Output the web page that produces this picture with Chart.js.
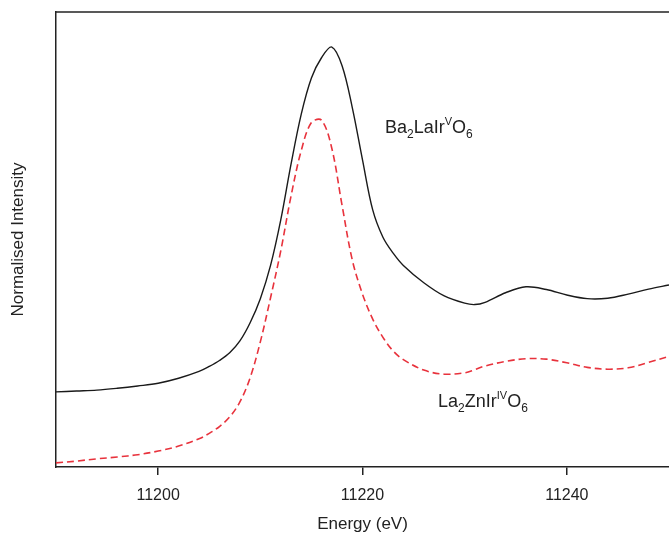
<!DOCTYPE html>
<html>
<head>
<meta charset="utf-8">
<script src="https://cdn.jsdelivr.net/npm/chart.js@4/dist/chart.umd.min.js"></script>
<style>
  html, body { margin: 0; padding: 0; background: #fff; }
  #wrap { width: 669px; height: 536px; position: relative; }
</style>
</head>
<body>
<div id="wrap"><canvas id="xanes"></canvas></div>
<script>
// Ir L3-edge XANES
const energies = [11190, 11192, 11194, 11196, 11198, 11200, 11202, 11204, 11205, 11206,
  11207, 11208, 11209, 11210, 11211, 11212, 11213, 11214, 11215, 11216,
  11217, 11218, 11219, 11220, 11221, 11222, 11223, 11224, 11226, 11228,
  11230, 11231, 11232, 11234, 11236, 11238, 11240, 11242, 11244, 11246, 11248, 11250];

const ba2LaIrO6 = [0.165, 0.167, 0.169, 0.173, 0.178, 0.184, 0.195, 0.210, 0.221, 0.234,
  0.251, 0.277, 0.317, 0.370, 0.443, 0.543, 0.665, 0.775, 0.855, 0.900,
  0.923, 0.882, 0.790, 0.675, 0.565, 0.505, 0.470, 0.443, 0.405, 0.376,
  0.360, 0.357, 0.362, 0.383, 0.396, 0.390, 0.378, 0.370, 0.371, 0.380, 0.391, 0.400];

const la2ZnIrO6 = [0.009, 0.013, 0.018, 0.022, 0.027, 0.035, 0.046, 0.062, 0.074, 0.089,
  0.110, 0.143, 0.196, 0.275, 0.372, 0.475, 0.595, 0.695, 0.757, 0.762,
  0.700, 0.575, 0.455, 0.380, 0.325, 0.285, 0.255, 0.236, 0.213, 0.204,
  0.207, 0.214, 0.222, 0.232, 0.238, 0.237, 0.229, 0.219, 0.215, 0.218, 0.230, 0.243];

const xTicks = [11200, 11220, 11240];

// curve labels: [text, script] pieces, anchored in data units
const curveLabels = [
  { x: 11222.2, y: 0.734, parts: [['Ba'], ['2', 'sub'], ['LaIr'], ['V', 'sup'], ['O'], ['6', 'sub']] },
  { x: 11227.4, y: 0.132, parts: [['La'], ['2', 'sub'], ['ZnIr'], ['IV', 'sup'], ['O'], ['6', 'sub']] }
];

const FONT = '"Liberation Sans", Arial, sans-serif';
const INK = '#222';

const framePlugin = {
  id: 'frame',
  afterDraw(chart) {
    const { ctx, chartArea, scales } = chart;
    ctx.save();
    ctx.strokeStyle = INK;
    ctx.lineWidth = 1.5;
    ctx.beginPath();
    ctx.moveTo(chartArea.left - 0.75, chartArea.top);
    ctx.lineTo(chartArea.right + 2, chartArea.top);
    ctx.stroke();

    ctx.fillStyle = INK;
    ctx.textBaseline = 'alphabetic';
    curveLabels.forEach(lab => {
      let px = scales.x.getPixelForValue(lab.x);
      const py = scales.y.getPixelForValue(lab.y);
      lab.parts.forEach(([t, kind]) => {
        let dy = 0;
        if (kind === 'sub') { ctx.font = '12px ' + FONT; dy = 5; }
        else if (kind === 'sup') { ctx.font = '11px ' + FONT; dy = -8; }
        else { ctx.font = '18px ' + FONT; }
        ctx.fillText(t, px, py + dy);
        px += ctx.measureText(t).width;
      });
    });
    ctx.restore();
  }
};

new Chart(document.getElementById('xanes'), {
  type: 'line',
  data: {
    labels: energies,
    datasets: [
      {
        label: 'Ba2LaIrO6',
        data: energies.map((e, i) => ({ x: e, y: ba2LaIrO6[i] })),
        borderColor: '#1a1a1a', borderWidth: 1.4,
        pointRadius: 0, fill: false, tension: 0.35
      },
      {
        label: 'La2ZnIrO6',
        data: energies.map((e, i) => ({ x: e, y: la2ZnIrO6[i] })),
        borderColor: '#e8323c', borderWidth: 1.6, borderDash: [7, 4],
        pointRadius: 0, fill: false, tension: 0.35
      }
    ]
  },
  options: {
    responsive: true, maintainAspectRatio: false, animation: false,
    devicePixelRatio: 1,
    layout: { padding: { top: 12, right: 0, left: 0, bottom: 0 } },
    plugins: { legend: { display: false }, tooltip: { enabled: false } },
    scales: {
      x: {
        type: 'linear', min: 11190, max: 11250,
        afterBuildTicks: s => { s.ticks = xTicks.map(v => ({ value: v })); },
        afterFit: s => { s.height = 69; },
        ticks: { color: INK, font: { family: FONT, size: 16 }, padding: 11, callback: v => String(v), maxRotation: 0 },
        grid: { drawOnChartArea: false, drawTicks: true, tickLength: 8, color: INK, lineWidth: 1.5 },
        border: { display: true, color: INK, width: 1.5 },
        title: { display: true, text: 'Energy (eV)', color: INK, font: { family: FONT, size: 17 }, padding: { top: 0, bottom: 1 } }
      },
      y: {
        type: 'linear', min: 0, max: 1,
        afterFit: s => { s.width = 56; },
        ticks: { display: false },
        grid: { display: false },
        border: { display: true, color: INK, width: 1.5 },
        title: { display: true, text: 'Normalised Intensity', color: INK, font: { family: FONT, size: 17 }, padding: { top: 8, bottom: 0 } }
      }
    }
  },
  plugins: [framePlugin]
});
</script>
</body>
</html>
